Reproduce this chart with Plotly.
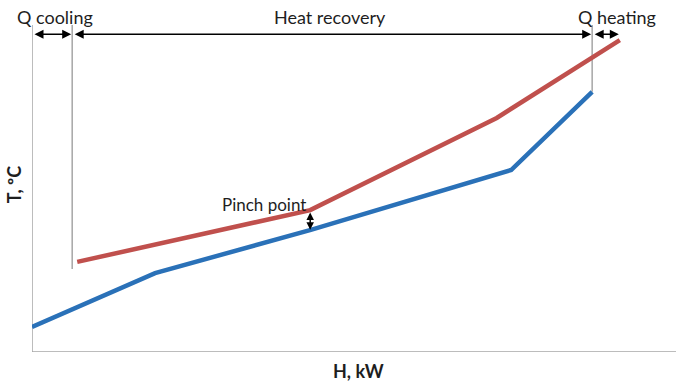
import plotly.graph_objects as go

# Composite curves (arbitrary units)
cold_H = [0.0, 19.6, 44.4, 76.3, 89.2]
cold_T = [7.1, 22.4, 34.7, 51.7, 73.9]
hot_H = [7.2, 44.3, 74.0, 93.6]
hot_T = [25.6, 40.3, 66.5, 88.6]

# Boundaries of regions
bound_H = [0.0, 6.4, 89.2, 93.6]
bound_low = [0.0, 23.6, 73.9]
arrow_T = 90.3
top_T = 92.9
pinch_H = 44.3
pinch_lo, pinch_hi = 34.3, 39.6

labels = ["Q cooling", "Heat recovery", "Q heating"]
label_H = [3.7, 47.5, 93.2]
label_T = 95.2

X_MAX = 102.55

RED = "#C0504D"
BLUE = "#2A71B8"
GRAY = "#A6A6A6"
FONT = "Lato"
TXT = "#1E1E1E"

fig = go.Figure()
fig.add_trace(go.Scatter(x=hot_H, y=hot_T, mode="lines",
                         line=dict(color=RED, width=4.5), cliponaxis=False,
                         hoverinfo="skip"))
fig.add_trace(go.Scatter(x=cold_H, y=cold_T, mode="lines",
                         line=dict(color=BLUE, width=4.5), cliponaxis=False,
                         hoverinfo="skip"))

# axes lines and vertical boundaries
fig.add_shape(type="line", x0=0, x1=X_MAX, y0=0, y1=0, xref="x", yref="y",
              line=dict(color=GRAY, width=1.5), layer="below")
for i in range(3):
    fig.add_shape(type="line", x0=bound_H[i], x1=bound_H[i], y0=bound_low[i], y1=top_T,
                  xref="x", yref="y", line=dict(color=GRAY, width=1.5), layer="below")

# horizontal double arrows
for i in range(3):
    fig.add_annotation(x=bound_H[i + 1], y=arrow_T, ax=bound_H[i], ay=arrow_T,
                       xref="x", yref="y", axref="x", ayref="y", text="",
                       showarrow=True, arrowhead=2, arrowside="end+start",
                       arrowsize=1.2, arrowwidth=1.5, arrowcolor="black",
                       standoff=1, startstandoff=1)
    fig.add_annotation(x=label_H[i], y=label_T, xref="x", yref="y", text=labels[i],
                       showarrow=False, font=dict(family=FONT, size=18, color=TXT),
                       yanchor="middle")

# pinch arrow
fig.add_annotation(x=pinch_H, y=pinch_hi, ax=pinch_H, ay=pinch_lo,
                   xref="x", yref="y", axref="x", ayref="y", text="",
                   showarrow=True, arrowhead=2, arrowside="end+start",
                   arrowsize=1.0, arrowwidth=1.5, arrowcolor="black",
                   standoff=0, startstandoff=0)
fig.add_annotation(x=36.9, y=42.0, xref="x", yref="y", text="Pinch point",
                   showarrow=False, font=dict(family=FONT, size=17, color=TXT),
                   yanchor="middle")

# axis titles (paper coordinates so they may sit outside the plot area)
fig.add_annotation(x=(358 - 32) / 644, y=-0.054, xref="paper", yref="paper",
                   text="<b>H, kW</b>",
                   showarrow=False, yanchor="middle", xanchor="center",
                   font=dict(family=FONT, size=18, color=TXT))
fig.add_annotation(x=(14 - 32) / 644, y=0.474, xref="paper", yref="paper",
                   text="<b>T, ºC</b>",
                   showarrow=False, textangle=-90, xanchor="center", yanchor="middle",
                   font=dict(family=FONT, size=18, color=TXT))

fig.update_layout(
    width=676, height=384,
    margin=dict(l=32, r=0, t=0, b=32, autoexpand=False),
    paper_bgcolor="white", plot_bgcolor="white",
    showlegend=False,
    xaxis=dict(range=[0, X_MAX], visible=False, fixedrange=True),
    yaxis=dict(range=[0, 100], visible=False, fixedrange=True),
)

fig.write_html("out.html", config={"displayModeBar": False},
               post_script="document.body.style.margin='0';document.body.style.overflow='hidden';")
